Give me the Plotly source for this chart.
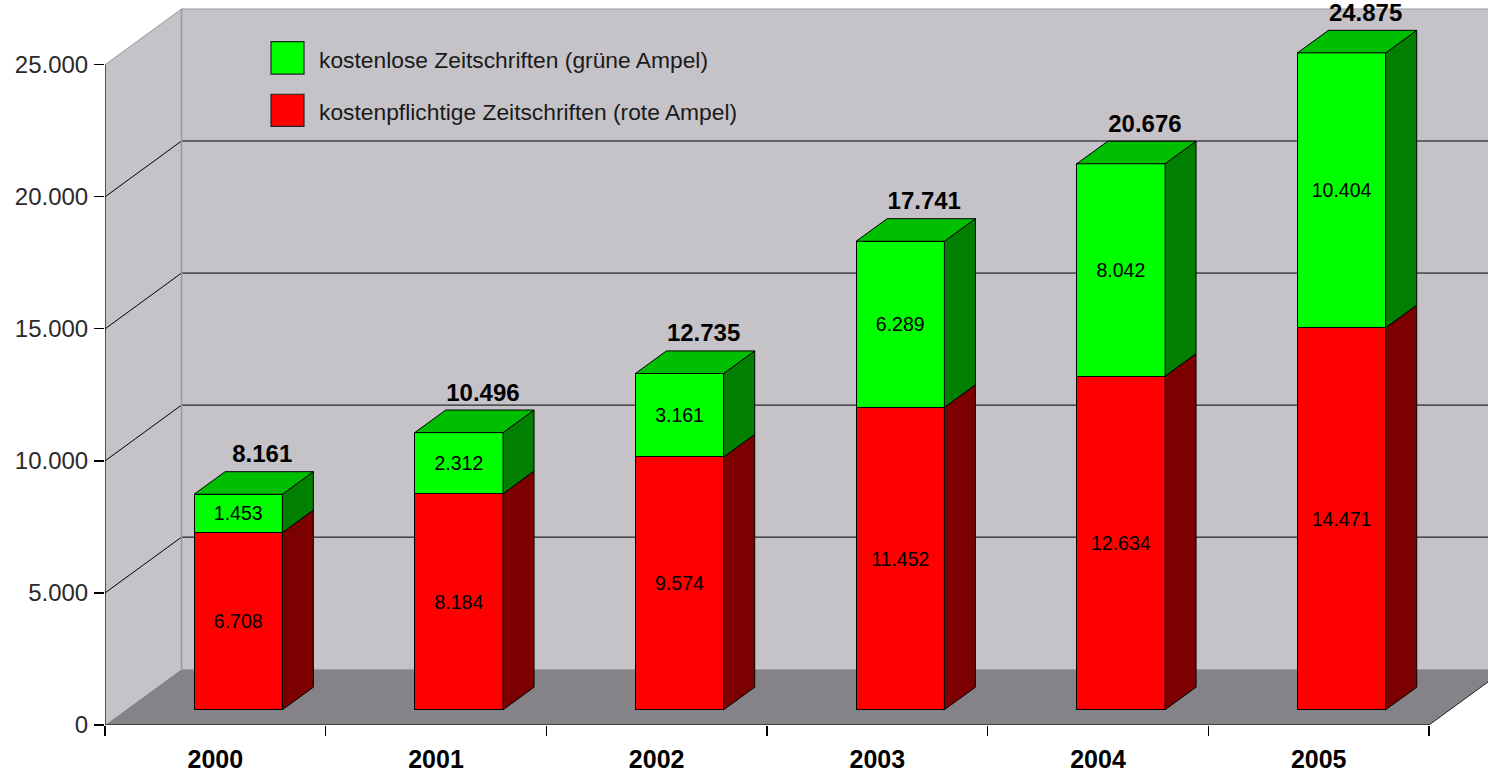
import plotly.graph_objects as go

# ---------------- data ----------------
years = ["2000", "2001", "2002", "2003", "2004", "2005"]
paid = [6708, 8184, 9574, 11452, 12634, 14471]      # kostenpflichtige (rot)
free = [1453, 2312, 3161, 6289, 8042, 10404]        # kostenlose (grün)
y_ticks = [0, 5000, 10000, 15000, 20000, 25000]
y_tick_text = ["0", "5.000", "10.000", "15.000", "20.000", "25.000"]
series_names = ["kostenlose Zeitschriften (grüne Ampel)",
                "kostenpflichtige Zeitschriften (rote Ampel)"]

totals = [p + f for p, f in zip(paid, free)]


def de(v):
    return f"{v:,}".replace(",", ".")


# ---------------- geometry (page pixels) ----------------
FIG_W, FIG_H = 1488, 773
AXIS_X, AXIS_Y = 105, 727    # position of the front y axis / zero line
M_L = AXIS_X
PLOT_W = FIG_W - M_L
PLOT_H = AXIS_Y
M_B = FIG_H - PLOT_H
CAT_PX = 220.67              # pixels per category on the front plane
VAL_PX = 662 / 25000         # pixels per value unit
BAR_SHIFT = (22.9, 15.3)     # bar plane offset from the front plane
BAR_DEPTH = (31.0, 22.6)     # depth of each bar
WALL_DEPTH = (76.5, 56.0)    # back wall offset from the front plane
BAR_W = 0.4

x_lo = -0.5
x_hi = x_lo + PLOT_W / CAT_PX
y_hi = PLOT_H / VAL_PX
sx, sy = BAR_SHIFT[0] / CAT_PX, BAR_SHIFT[1] / VAL_PX
ddx, ddy = BAR_DEPTH[0] / CAT_PX, BAR_DEPTH[1] / VAL_PX
bx, by = WALL_DEPTH[0] / CAT_PX, WALL_DEPTH[1] / VAL_PX
n = len(years)
idx = list(range(n))

WALL = "#C5C3C7"
FLOOR = "#858387"
EDGE = "#9A989C"
RED, RED_SIDE = "#FF0000", "#7C0000"
GREEN, GREEN_TOP, GREEN_SIDE = "#00FF00", "#00BF00", "#007F00"
FONT = "Liberation Sans, Arial, sans-serif"

fig = go.Figure()

# anchor trace for the category axis (invisible)
fig.add_trace(go.Scatter(x=years, y=[0] * n, mode="markers",
                         marker=dict(opacity=0), hoverinfo="skip",
                         showlegend=False, xaxis="x", yaxis="y"))

# front faces of stacked bars
fig.add_trace(go.Bar(x=idx, y=paid, width=BAR_W, name=series_names[1],
                     marker=dict(color=RED, line=dict(color="black", width=1)),
                     text=[de(v) for v in paid], textposition="inside",
                     insidetextanchor="middle", textangle=0,
                     insidetextfont=dict(family=FONT, size=19.5, color="black"),
                     xaxis="x2", yaxis="y2", showlegend=False))
fig.add_trace(go.Bar(x=idx, y=free, width=BAR_W, name=series_names[0],
                     marker=dict(color=GREEN, line=dict(color="black", width=1)),
                     text=[de(v) for v in free], textposition="inside",
                     insidetextanchor="middle", textangle=0,
                     insidetextfont=dict(family=FONT, size=19.5, color="black"),
                     xaxis="x2", yaxis="y2", showlegend=False))


def poly(points_list):
    xs, ys = [], []
    for pts in points_list:
        for (a, b) in pts:
            xs.append(a)
            ys.append(b)
        xs.append(pts[0][0])
        ys.append(pts[0][1])
        xs.append(None)
        ys.append(None)
    return xs, ys


red_side, green_side, green_top = [], [], []
for i in idx:
    xr = i + BAR_W / 2
    xl = i - BAR_W / 2
    p, t = paid[i], totals[i]
    red_side.append([(xr, 0), (xr + ddx, ddy), (xr + ddx, p + ddy), (xr, p)])
    green_side.append([(xr, p), (xr + ddx, p + ddy), (xr + ddx, t + ddy), (xr, t)])
    green_top.append([(xl, t), (xl + ddx, t + ddy), (xr + ddx, t + ddy), (xr, t)])

for pts, col in [(red_side, RED_SIDE), (green_side, GREEN_SIDE), (green_top, GREEN_TOP)]:
    xs, ys = poly(pts)
    fig.add_trace(go.Scatter(x=xs, y=ys, mode="lines", fill="toself",
                             fillcolor=col, line=dict(color="black", width=1),
                             hoverinfo="skip", showlegend=False,
                             xaxis="x2", yaxis="y2"))

# totals above bars
fig.add_trace(go.Scatter(x=[i + 24 / CAT_PX for i in idx],
                         y=[t + ddy + 15.5 / VAL_PX for t in totals],
                         mode="text", text=[de(t) for t in totals],
                         textposition="middle center",
                         textfont=dict(family=FONT, size=24, color="black", weight="bold"),
                         hoverinfo="skip", showlegend=False, cliponaxis=False,
                         xaxis="x2", yaxis="y2"))

# ---------------- walls, floor, grid ----------------
shapes = []
L = -0.5
R = n - 0.5
top = y_ticks[-1]


def path(pts):
    return "M " + " L ".join(f"{a},{b}" for a, b in pts) + " Z"


shapes.append(dict(type="rect", xref="x", yref="y", x0=L + bx, x1=R + bx + 1,
                   y0=by, y1=top + by, fillcolor=WALL, line=dict(width=0), layer="below"))
shapes.append(dict(type="path", xref="x", yref="y",
                   path=path([(L, 0), (L, top), (L + bx, top + by), (L + bx, by)]),
                   fillcolor=WALL, line=dict(width=0), layer="below"))
shapes.append(dict(type="path", xref="x", yref="y",
                   path=path([(L, 0), (L + bx, by), (R + bx, by), (R, 0)]),
                   fillcolor=FLOOR, line=dict(width=0), layer="below"))
for v in y_ticks[1:]:
    col = EDGE if v == top else "black"
    shapes.append(dict(type="line", xref="x", yref="y", x0=L + bx, x1=R + bx + 1,
                       y0=v + by, y1=v + by, line=dict(color=col, width=1), layer="below"))
    shapes.append(dict(type="line", xref="x", yref="y", x0=L, x1=L + bx,
                       y0=v, y1=v + by, line=dict(color=col, width=1), layer="below"))
shapes.append(dict(type="line", xref="x", yref="y", x0=L + bx, x1=L + bx,
                   y0=by, y1=top + by, line=dict(color=EDGE, width=1.5), layer="below"))
shapes.append(dict(type="line", xref="x", yref="y", x0=R, x1=R + bx,
                   y0=0, y1=by, line=dict(color="#222", width=1), layer="below"))
shapes.append(dict(type="line", xref="x", yref="y", x0=L, x1=L,
                   y0=0, y1=top, line=dict(color="black", width=1.2), layer="above"))
shapes.append(dict(type="line", xref="x", yref="y", x0=L - 10 / CAT_PX, x1=R,
                   y0=0, y1=0, line=dict(color="black", width=1.2), layer="above"))


# ---------------- legend (custom) ----------------
def px_x(px):
    return (px - AXIS_X) / PLOT_W


def px_y(py):
    return (AXIS_Y - py) / PLOT_H


annotations = []
legend_rows = [(series_names[0], GREEN, 41.7, 74.3, 60),
               (series_names[1], RED, 94.5, 126.7, 112)]
for name, col, y0, y1, ty in legend_rows:
    shapes.append(dict(type="rect", xref="paper", yref="paper",
                       x0=px_x(271), x1=px_x(304), y0=px_y(y1), y1=px_y(y0),
                       fillcolor=col, line=dict(color="#222", width=1.2)))
    annotations.append(dict(xref="paper", yref="paper", x=px_x(317), y=px_y(ty),
                            xanchor="left", yanchor="middle", showarrow=False,
                            text=name, font=dict(family=FONT, size=22.8, color="#1a1a1a")))

fig.update_layout(
    width=FIG_W, height=FIG_H,
    margin=dict(l=M_L, r=0, t=0, b=M_B, pad=0),
    paper_bgcolor="white", plot_bgcolor="white",
    barmode="stack", bargap=0,
    showlegend=False, hovermode=False,
    shapes=shapes, annotations=annotations,
    xaxis=dict(type="category", categoryorder="array", categoryarray=years,
               range=[x_lo, x_hi], tickson="boundaries", ticks="outside",
               ticklen=10, tickwidth=1.2, tickcolor="black",
               showgrid=False, zeroline=False, showline=False,
               tickfont=dict(family=FONT, size=25, color="black", weight="bold"),
               ticklabelstandoff=17, fixedrange=True),
    yaxis=dict(range=[0, y_hi], tickmode="array", tickvals=y_ticks, ticktext=y_tick_text,
               ticks="outside", ticklen=10, tickwidth=1.2, tickcolor="black",
               showgrid=False, zeroline=False, showline=False,
               tickfont=dict(family=FONT, size=24, color="#2a2a2a"),
               ticklabelstandoff=1, fixedrange=True),
    xaxis2=dict(overlaying="x", anchor="y2", range=[x_lo - sx, x_hi - sx],
                visible=False, fixedrange=True),
    yaxis2=dict(overlaying="y", anchor="x2", range=[-sy, y_hi - sy],
                visible=False, fixedrange=True),
)

# the page's default 8px body margin would shift the chart; remove it
fig.write_html("out.html", config={"displayModeBar": False, "staticPlot": True},
               post_script="document.body.style.margin='0';")
